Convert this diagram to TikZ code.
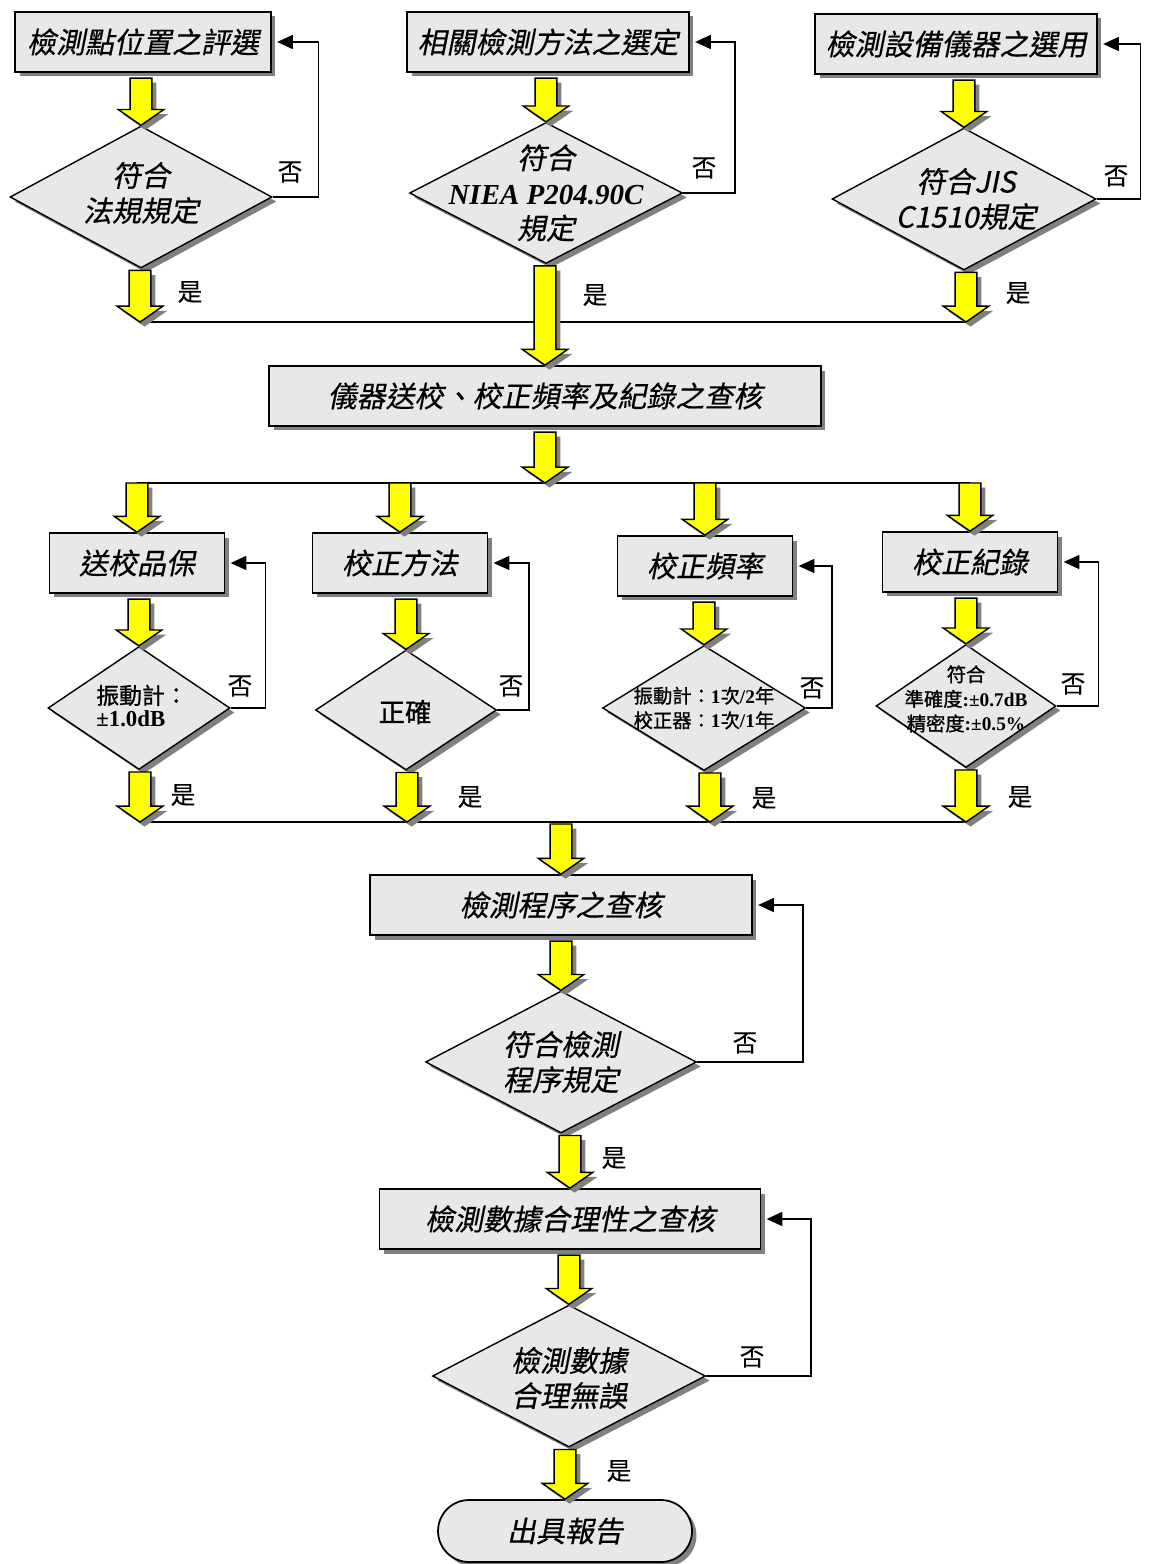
\documentclass[tikz,border=0pt]{standalone}
\usepackage{fontspec}
\setmainfont{Liberation Serif}
\newfontfamily\kai{Noto Sans CJK TC}[FakeSlant=0.2,FakeBold=0.5]
\newfontfamily\hei{Noto Sans CJK TC}[FakeBold=1]
\newfontfamily\ming{Noto Sans CJK TC}[FakeBold=0.3]
\usetikzlibrary{shapes.geometric,shadows,arrows.meta,calc}
\definecolor{boxgray}{RGB}{232,232,232}
\definecolor{shadegray}{RGB}{128,128,128}
\definecolor{arrowyellow}{RGB}{255,255,0}

\tikzset{
  dshadow/.style={drop shadow={shadow xshift=0.09cm,shadow yshift=-0.09cm,opacity=1,fill=shadegray}},
  box/.style={draw,line width=1pt,fill=boxgray,dshadow,minimum height=1.2cm,inner sep=0pt,
    font=\kai\fontsize{16.5}{20}\selectfont},
  decide/.style={draw,diamond,line width=0.8pt,fill=boxgray,dshadow,inner sep=0pt},
  dtext/.style={align=center,inner sep=0pt,font=\kai\fontsize{16.5}{20}\selectfont},
  stext/.style={align=center,inner sep=0pt,font=\hei\fontsize{11}{14}\selectfont},
  lbl/.style={inner sep=0pt,font=\ming\fontsize{14}{16}\selectfont},
  back/.style={line width=0.9pt,-{Triangle[length=9pt,width=8pt]},shorten >=3pt},
  joint/.style={line width=1pt}
}

% yellow block arrow: #1 start, #2 tip (x taken from the tip)
\newcommand{\arrowpoly}[1]{([shift={#1},xshift=-6.2pt]ya) -- ([shift={#1},xshift=6.2pt]ya)
  -- ([shift={#1},xshift=6.2pt,yshift=9pt]yb) -- ([shift={#1},xshift=13pt,yshift=9pt]yb)
  -- ([shift={#1}]yb) -- ([shift={#1},xshift=-13pt,yshift=9pt]yb)
  -- ([shift={#1},xshift=-6.2pt,yshift=9pt]yb) -- cycle}
\newcommand{\yarrow}[2]{%
  \path let \p1=#1, \p2=#2 in coordinate (ya) at (\x2,\y1) coordinate (yb) at (\x2,\y2);
  \fill[shadegray] \arrowpoly{(2.6pt,-2.6pt)};
  \filldraw[fill=arrowyellow,draw=black,line width=0.8pt] \arrowpoly{(0pt,0pt)};
}

\begin{document}
\begin{tikzpicture}[x=0.02cm,y=-0.02cm]
\useasboundingbox (0,0) rectangle (1149,1564);

% first row: three checks
\node[box,minimum width=5.12cm] (b1) at (143,42) {檢測點位置之評選};
\node[box,minimum width=5.64cm] (b2) at (548,42) {相關檢測方法之選定};
\node[box,minimum width=5.64cm] (b3) at (956,44) {檢測設備儀器之選用};

\node[decide,minimum width=5.24cm,minimum height=2.84cm] (d1) at (141,197) {};
\node[dtext] (d1t) at (141,193) {符合\\法規規定};
\node[decide,minimum width=5.46cm,minimum height=2.82cm] (d2) at (546,193) {};
\node[dtext] (d2t) at (546,193) {符合\\{\rmfamily\bfseries\itshape NIEA P204.90C}\\規定};
\node[decide,minimum width=5.28cm,minimum height=2.84cm] (d3) at (964,199) {};
\node[dtext] (d3t) at (966,199) {符合JIS\\C1510規定};

\yarrow{([yshift=-3pt]b1.south)}{(d1.north)}
\yarrow{([yshift=-3pt]b2.south)}{(d2.north)}
\yarrow{([yshift=-3pt]b3.south)}{(d3.north)}

\draw[back] (d1.east) -- ++(46,0) |- (b1.east);
\draw[back] (d2.east) -- ++(52,0) |- (b2.east);
\draw[back] (d3.east) -- ++(44,0) |- (b3.east);
\node[lbl] (n1) at (290,172) {否};
\node[lbl] (n2) at (704,168) {否};
\node[lbl] (n3) at (1116,176) {否};

\coordinate (j1) at (140,322);
\coordinate (j3) at (966,322);
\draw[joint] (j1) -- (j3);
\yarrow{([yshift=-1pt]d1.south)}{(j1)}
\yarrow{([yshift=-1pt]d3.south)}{(j3)}
\node[lbl] (y1) at (190,292) {是};
\node[lbl] (y2) at (595,295) {是};
\node[lbl] (y3) at (1018,293) {是};

% calibration review
\node[box,minimum width=11.04cm] (b4) at (545,396) {儀器送校、校正頻率及紀錄之查核};
\yarrow{([yshift=-1pt]d2.south)}{(b4.north)}

\coordinate (k0) at (545,483);
\coordinate (k1) at (137,483);
\coordinate (k2) at (400,483);
\coordinate (k3) at (705,483);
\coordinate (k4) at (970,483);
\draw[joint] (k1) -- (k4);
\yarrow{([yshift=-3pt]b4.south)}{(k0)}

\node[box,minimum width=3.5cm] (c1) at (137,563) {送校品保};
\node[box,minimum width=3.5cm] (c2) at (400,563) {校正方法};
\node[box,minimum width=3.5cm] (c3) at (705,566) {校正頻率};
\node[box,minimum width=3.5cm] (c4) at (970,562) {校正紀錄};
\yarrow{(k1)}{(c1.north)}
\yarrow{(k2)}{(c2.north)}
\yarrow{(k3)}{(c3.north)}
\yarrow{(k4)}{(c4.north)}

\node[decide,minimum width=3.64cm,minimum height=2.46cm] (e1) at (139,708) {};
\node[stext,align=left,font=\hei\fontsize{13}{13}\selectfont] (e1t) at (142,706) {振動計：\\{\rmfamily\bfseries ±1.0dB}};
\node[decide,minimum width=3.62cm,minimum height=2.4cm] (e2) at (406,710) {};
\node[stext,font=\hei\fontsize{15}{18}\selectfont] (e2t) at (405,712) {正確};
\node[decide,minimum width=4.06cm,minimum height=2.5cm] (e3) at (704,708) {};
\node[stext] (e3t) at (704,708) {振動計：{\rmfamily\bfseries 1}次{\rmfamily\bfseries /2}年\\校正器：{\rmfamily\bfseries 1}次{\rmfamily\bfseries /1}年};
\node[decide,minimum width=3.6cm,minimum height=2.46cm] (e4) at (966,706) {};
\node[stext] (e4t) at (966,699) {符合\\準確度{\rmfamily\bfseries :±0.7dB}\\精密度{\rmfamily\bfseries :±0.5\%}};

\yarrow{([yshift=-3pt]c1.south)}{(e1.north)}
\yarrow{([yshift=-3pt]c2.south)}{(e2.north)}
\yarrow{([yshift=-3pt]c3.south)}{(e3.north)}
\yarrow{([yshift=-3pt]c4.south)}{(e4.north)}

\draw[back] (e1.east) -- ++(35,0) |- (c1.east);
\draw[back] (e2.east) -- ++(32,0) |- (c2.east);
\draw[back] (e3.east) -- ++(26,0) |- (c3.east);
\draw[back] (e4.east) -- ++(42,0) |- (c4.east);
\node[lbl] (n4) at (240,686) {否};
\node[lbl] (n5) at (511,686) {否};
\node[lbl] (n6) at (812,688) {否};
\node[lbl] (n7) at (1073,684) {否};

\coordinate (m1) at (140,822);
\coordinate (m2) at (407,822);
\coordinate (m3) at (710,822);
\coordinate (m4) at (966,822);
\draw[joint] (m1) -- (m4);
\yarrow{([yshift=-1pt]e1.south)}{(m1)}
\yarrow{([yshift=-1pt]e2.south)}{(m2)}
\yarrow{([yshift=-1pt]e3.south)}{(m3)}
\yarrow{([yshift=-1pt]e4.south)}{(m4)}
\node[lbl] (y4) at (183,795) {是};
\node[lbl] (y5) at (470,797) {是};
\node[lbl] (y6) at (764,798) {是};
\node[lbl] (y7) at (1020,797) {是};

% procedure and data review
\coordinate (m0) at (558,824);
\node[box,minimum width=7.64cm] (f1) at (561,905) {檢測程序之查核};
\yarrow{(m0)}{(f1.north)}

\node[decide,minimum width=5.42cm,minimum height=2.84cm] (g1) at (561,1062) {};
\node[dtext] (g1t) at (561,1062) {符合檢測\\程序規定};
\yarrow{([yshift=-3pt]f1.south)}{(g1.north)}
\draw[back] (g1.east) -- ++(106,0) |- (f1.east);
\node[lbl] (n8) at (745,1043) {否};

\node[box,minimum width=7.62cm] (f2) at (570,1219) {檢測數據合理性之查核};
\yarrow{([yshift=-1pt]g1.south)}{(f2.north)}
\node[lbl] (y8) at (614,1158) {是};

\node[decide,minimum width=5.46cm,minimum height=2.84cm] (g2) at (569,1376) {};
\node[dtext] (g2t) at (569,1378) {檢測數據\\合理無誤};
\yarrow{([yshift=-3pt]f2.south)}{(g2.north)}
\draw[back] (g2.east) -- ++(105,0) |- (f2.east);
\node[lbl] (n9) at (752,1357) {否};

\node[box,rounded corners=0.62cm,minimum width=5.08cm,minimum height=1.24cm] (t1) at (565,1531) {出具報告};
\yarrow{([yshift=-1pt]g2.south)}{(t1.north)}
\node[lbl] (y9) at (619,1471) {是};
\end{tikzpicture}
\end{document}
